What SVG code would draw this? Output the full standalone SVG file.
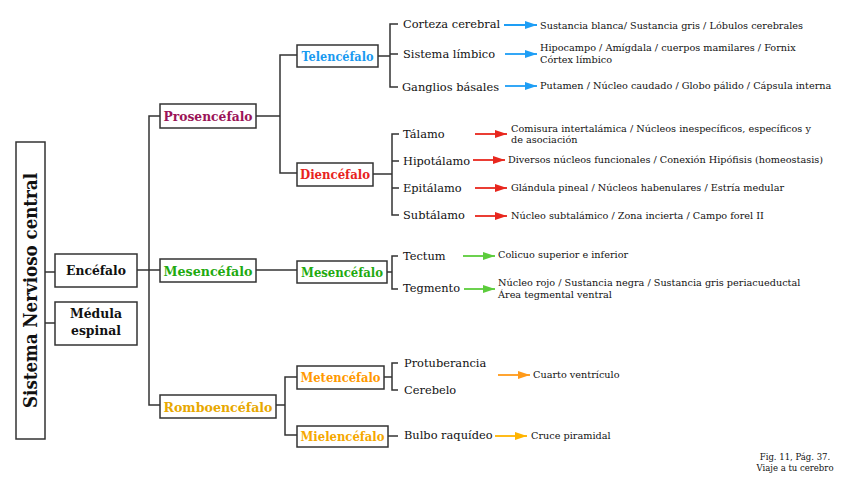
<svg xmlns="http://www.w3.org/2000/svg" width="848" height="482" viewBox="0 0 848 482">
<style>
.box{fill:#fff;stroke:#333;stroke-width:1.5}
.con{fill:none;stroke:#333;stroke-width:1.5}
.b1{font-family:"DejaVu Serif",serif;font-weight:bold;font-size:13.5px;text-anchor:middle}
.b2{font-family:"DejaVu Serif",serif;font-weight:bold;font-size:12.5px;text-anchor:middle}
.l3{font-family:"DejaVu Serif",serif;font-size:11.4px;fill:#111}
.sm{font-family:"DejaVu Serif",serif;font-size:9.7px;fill:#111}
.ft{font-family:"DejaVu Serif",serif;font-size:8.5px;fill:#111;text-anchor:middle}
.ab{stroke:#1e9ef5;stroke-width:1.8}
.ar{stroke:#e8271e;stroke-width:1.8}
.ag{stroke:#5ccc3c;stroke-width:1.8}
.ao{stroke:#ff9a1a;stroke-width:1.8}
.ay{stroke:#ffb400;stroke-width:1.8}
</style>
<defs>
<marker id="mb" markerUnits="userSpaceOnUse" markerWidth="12" markerHeight="8" refX="12" refY="4" orient="auto"><path d="M0,0 L12,4 L0,8 z" fill="#1e9ef5"/></marker>
<marker id="mr" markerUnits="userSpaceOnUse" markerWidth="12" markerHeight="8" refX="12" refY="4" orient="auto"><path d="M0,0 L12,4 L0,8 z" fill="#e8271e"/></marker>
<marker id="mg" markerUnits="userSpaceOnUse" markerWidth="12" markerHeight="8" refX="12" refY="4" orient="auto"><path d="M0,0 L12,4 L0,8 z" fill="#5ccc3c"/></marker>
<marker id="mo" markerUnits="userSpaceOnUse" markerWidth="12" markerHeight="8" refX="12" refY="4" orient="auto"><path d="M0,0 L12,4 L0,8 z" fill="#ff9a1a"/></marker>
<marker id="my" markerUnits="userSpaceOnUse" markerWidth="12" markerHeight="8" refX="12" refY="4" orient="auto"><path d="M0,0 L12,4 L0,8 z" fill="#ffb400"/></marker>
</defs>
<rect width="848" height="482" fill="#fff"/>

<g id="connectors">
<path class="con" d="M45,272 H55 M45,323 H55"/>
<path class="con" d="M137,270 H160 M160,116 H149 V405 H160"/>
<path class="con" d="M256,116 H280 M297,55 H280 V173 H297"/>
<path class="con" d="M256,270 H297"/>
<path class="con" d="M276,405 H285 M297,377 H285 V435 H297"/>
<path class="con" d="M378,56 H390 M398,24 H390 V87 H398 M390,54 H398"/>
<path class="con" d="M373,174 H392 M399,134 H392 V215 H399 M392,161 H399 M392,188 H399"/>
<path class="con" d="M387,272 H392 M398,256 H392 V289 H398"/>
<path class="con" d="M384,377 H392 M398,363 H392 V390 H398"/>
<path class="con" d="M388,436 H398"/>
<line class="ab" x1="504" y1="25" x2="537" y2="25" marker-end="url(#mb)"/>
<line class="ab" x1="505" y1="54" x2="537" y2="54" marker-end="url(#mb)"/>
<line class="ab" x1="505" y1="86" x2="537" y2="86" marker-end="url(#mb)"/>
<line class="ar" x1="475" y1="134" x2="507" y2="134" marker-end="url(#mr)"/>
<line class="ar" x1="473" y1="160" x2="505" y2="160" marker-end="url(#mr)"/>
<line class="ar" x1="475" y1="188" x2="507" y2="188" marker-end="url(#mr)"/>
<line class="ar" x1="475" y1="216" x2="507" y2="216" marker-end="url(#mr)"/>
<line class="ag" x1="463" y1="256" x2="495" y2="256" marker-end="url(#mg)"/>
<line class="ag" x1="464" y1="289" x2="495" y2="289" marker-end="url(#mg)"/>
<line class="ao" x1="498" y1="375" x2="530" y2="375" marker-end="url(#mo)"/>
<line class="ay" x1="495" y1="436" x2="527" y2="436" marker-end="url(#my)"/>
</g>

<g id="snc">
<rect class="box" x="16" y="142" width="29" height="297"/>
<text transform="translate(36.5,290.5) rotate(-90)" font-family="DejaVu Serif, serif" font-weight="bold" font-size="18" text-anchor="middle" fill="#111" textLength="235" lengthAdjust="spacingAndGlyphs">Sistema Nervioso central</text>
</g>
<g id="encefalo">
<rect class="box" x="55" y="254" width="82" height="33"/>
<text class="b1" x="96" y="275" fill="#111" textLength="60" lengthAdjust="spacingAndGlyphs">Encéfalo</text>
</g>
<g id="medula">
<rect class="box" x="55" y="302" width="82" height="43"/>
<text class="b1" x="96" y="318" fill="#111" textLength="52" lengthAdjust="spacingAndGlyphs">Médula</text>
<text class="b1" x="96" y="335" fill="#111" textLength="50" lengthAdjust="spacingAndGlyphs">espinal</text>
</g>
<g id="prosencefalo">
<rect class="box" x="160" y="104" width="96" height="24"/>
<text class="b1" x="208" y="121" fill="#9b1458" textLength="89" lengthAdjust="spacingAndGlyphs">Prosencéfalo</text>
</g>
<g id="mesencefalo1">
<rect class="box" x="160" y="259" width="96" height="23"/>
<text class="b1" x="208" y="275.5" fill="#1faa10" textLength="89" lengthAdjust="spacingAndGlyphs">Mesencéfalo</text>
</g>
<g id="romboencefalo">
<rect class="box" x="160" y="395" width="116" height="23"/>
<text class="b1" x="218" y="411.5" fill="#e8a800" textLength="109" lengthAdjust="spacingAndGlyphs">Romboencéfalo</text>
</g>
<g id="telencefalo">
<rect class="box" x="297" y="45" width="81" height="22"/>
<text class="b2" x="337.5" y="60.5" fill="#1a9af0" textLength="72" lengthAdjust="spacingAndGlyphs">Telencéfalo</text>
</g>
<g id="diencefalo">
<rect class="box" x="297" y="163" width="76" height="23"/>
<text class="b2" x="335" y="179" fill="#e8231e" textLength="70" lengthAdjust="spacingAndGlyphs">Diencéfalo</text>
</g>
<g id="mesencefalo2">
<rect class="box" x="297" y="261" width="90" height="22"/>
<text class="b2" x="342" y="276.5" fill="#1faa10" textLength="82" lengthAdjust="spacingAndGlyphs">Mesencéfalo</text>
</g>
<g id="metencefalo">
<rect class="box" x="297" y="366" width="87" height="23"/>
<text class="b2" x="340.5" y="382" fill="#ff9900" textLength="80" lengthAdjust="spacingAndGlyphs">Metencéfalo</text>
</g>
<g id="mielencefalo">
<rect class="box" x="297" y="426" width="91" height="21"/>
<text class="b2" x="342.5" y="441" fill="#f5a800" textLength="84" lengthAdjust="spacingAndGlyphs">Mielencéfalo</text>
</g>

<g id="corteza"><text class="l3" x="403" y="28">Corteza cerebral</text></g>
<g id="limbico"><text class="l3" x="403" y="58">Sistema límbico</text></g>
<g id="ganglios"><text class="l3" x="402" y="91">Ganglios básales</text></g>
<g id="talamo"><text class="l3" x="403" y="138">Tálamo</text></g>
<g id="hipotalamo"><text class="l3" x="403" y="165">Hipotálamo</text></g>
<g id="epitalamo"><text class="l3" x="403" y="192">Epitálamo</text></g>
<g id="subtalamo"><text class="l3" x="403" y="219">Subtálamo</text></g>
<g id="tectum"><text class="l3" x="403" y="260">Tectum</text></g>
<g id="tegmento"><text class="l3" x="403" y="292">Tegmento</text></g>
<g id="protuberancia"><text class="l3" x="404" y="367">Protuberancia</text></g>
<g id="cerebelo"><text class="l3" x="404" y="394">Cerebelo</text></g>
<g id="bulbo"><text class="l3" x="404" y="439">Bulbo raquídeo</text></g>

<g id="d-corteza"><text class="sm" x="540" y="29">Sustancia blanca/ Sustancia gris / Lóbulos cerebrales</text></g>
<g id="d-limbico"><text class="sm" x="540" y="51">Hipocampo / Amígdala / cuerpos mamilares / Fornix</text><text class="sm" x="540" y="63">Córtex límbico</text></g>
<g id="d-ganglios"><text class="sm" x="540" y="89">Putamen / Núcleo caudado / Globo pálido / Cápsula interna</text></g>
<g id="d-talamo"><text class="sm" x="511" y="132">Comisura intertalámica / Núcleos inespecíficos, específicos y</text><text class="sm" x="511" y="143">de asociación</text></g>
<g id="d-hipotalamo"><text class="sm" x="508" y="163">Diversos núcleos funcionales / Conexión Hipófisis (homeostasis)</text></g>
<g id="d-epitalamo"><text class="sm" x="511" y="191">Glándula pineal / Núcleos habenulares / Estría medular</text></g>
<g id="d-subtalamo"><text class="sm" x="511" y="219">Núcleo subtalámico / Zona incierta / Campo forel II</text></g>
<g id="d-tectum"><text class="sm" x="498" y="258">Colicuo superior e inferior</text></g>
<g id="d-tegmento"><text class="sm" x="498" y="286">Núcleo rojo / Sustancia negra / Sustancia gris periacueductal</text><text class="sm" x="498" y="298">Área tegmental ventral</text></g>
<g id="d-metencefalo"><text class="sm" x="533" y="378">Cuarto ventrículo</text></g>
<g id="d-mielencefalo"><text class="sm" x="531" y="439">Cruce piramidal</text></g>

<g id="fuente">
<text class="ft" x="795" y="460">Fig. 11, Pág. 37.</text>
<text class="ft" x="795" y="471">Viaje a tu cerebro</text>
</g>
</svg>
